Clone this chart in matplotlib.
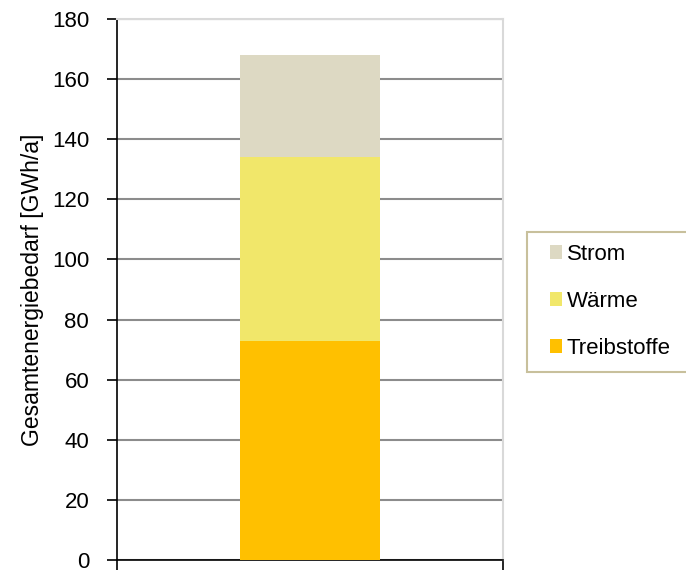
import matplotlib.pyplot as plt
from matplotlib.patches import Patch, Rectangle

plt.rcParams['font.family'] = ['Liberation Sans', 'DejaVu Sans']

# Gesamtenergiebedarf, gestapelt nach Sektoren
sectors = ['Treibstoffe', 'Wärme', 'Strom']
values = [73, 61, 34]
colors = ['#FFC000', '#F1E76A', '#DDD9C3']
y_ticks = list(range(0, 181, 20))

W, H = 686, 571
fig = plt.figure(figsize=(W / 100, H / 100), dpi=100)
ax = fig.add_axes([117 / W, 1 - 560 / H, 386 / W, 541 / H])

bottom = 0
for name, val, col in zip(sectors, values, colors):
    ax.bar(0, val, width=0.363, bottom=bottom, color=col, zorder=3, label=name)
    bottom += val

ax.set_xlim(-0.5, 0.5)
ax.set_ylim(0, 180)
ax.set_yticks(y_ticks)
ax.set_yticklabels([str(t) for t in y_ticks], fontsize=16)
ax.set_xticks([-0.5, 0.5])
ax.set_xticklabels(['', ''])
ax.tick_params(axis='y', direction='out', length=7, width=1.2, pad=13)
ax.tick_params(axis='x', direction='out', length=7, width=1.2)

ax.yaxis.grid(True, color='#8C8C8C', linewidth=1.5, zorder=0)
ax.set_axisbelow(True)

ax.spines['left'].set_linewidth(1.2)
ax.spines['bottom'].set_linewidth(1.2)
ax.spines['top'].set_color('#D9D9D9')
ax.spines['right'].set_color('#D9D9D9')
ax.spines['top'].set_linewidth(1.5)
ax.spines['right'].set_linewidth(1.5)

ax.set_ylabel('Gesamtenergiebedarf [GWh/a]', fontsize=16.5, labelpad=6)

# Legendenrahmen rechts, läuft über den Bildrand hinaus
fig.patches.append(Rectangle((527 / W, 1 - 372 / H), 170 / W, 139.5 / H,
                             transform=fig.transFigure, facecolor='white',
                             edgecolor='#C8C09C', linewidth=1.5))

# Legendeneinträge, Reihenfolge von oben nach unten
handles = [Patch(facecolor=c, label=n) for n, c in zip(sectors, colors)][::-1]
leg = fig.legend(handles=handles, loc='center left', bbox_to_anchor=(550 / W, 1 - 301.5 / H),
                 bbox_transform=fig.transFigure, borderaxespad=0, borderpad=0,
                 fontsize=16, handlelength=0.55, handleheight=0.55, handletextpad=0.2,
                 labelspacing=1.17, frameon=False)

fig.savefig('out.png', dpi=100)
